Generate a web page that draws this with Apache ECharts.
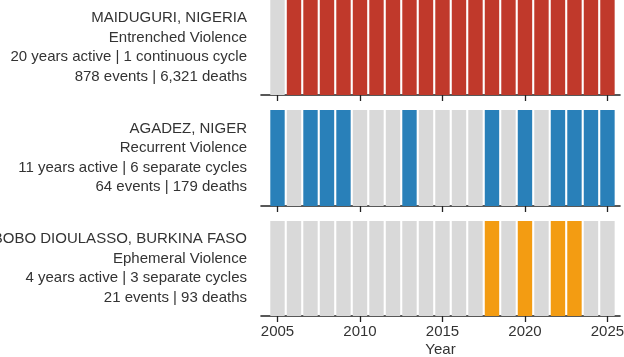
<!DOCTYPE html>
<html>
<head>
<meta charset="utf-8">
<script src="https://cdn.jsdelivr.net/npm/echarts@6/dist/echarts.min.js"></script>
<style>
html,body{margin:0;padding:0;background:#fff;}
#chart{width:624px;height:357px;}
</style>
</head>
<body>
<div id="chart"></div>
<script>
const years = [2005,2006,2007,2008,2009,2010,2011,2012,2013,2014,2015,2016,2017,2018,2019,2020,2021,2022,2023,2024,2025];
const tickYears = [2005,2010,2015,2020,2025];
const maiduguriActive = [0,1,1,1,1,1,1,1,1,1,1,1,1,1,1,1,1,1,1,1,1];
const agadezActive    = [1,0,1,1,1,0,0,0,1,0,0,0,0,1,0,1,0,1,1,1,1];
const boboActive      = [0,0,0,0,0,0,0,0,0,0,0,0,0,1,0,1,0,1,1,0,0];
const cityNames = ['MAIDUGURI, NIGERIA','AGADEZ, NIGER','BOBO DIOULASSO, BURKINA FASO'];
const violenceTypes = ['Entrenched Violence','Recurrent Violence','Ephemeral Violence'];
const activityLines = ['20 years active | 1 continuous cycle','11 years active | 6 separate cycles','4 years active | 3 separate cycles'];
const statsLines = ['878 events | 6,321 deaths','64 events | 179 deaths','21 events | 93 deaths'];

const panels = [maiduguriActive, agadezActive, boboActive];
const activeColors = ['#c0392b','#2980b9','#f39c12'];
const inactiveColor = '#d9d9d9';
const gridTops = [0, 110, 221];
const gridHeights = [95, 96, 95];
const FONT = '"Liberation Sans", Arial, Helvetica, sans-serif';

const chart = echarts.init(document.getElementById('chart'), null, {renderer:'canvas'});

const grids = [], xAxes = [], yAxes = [], series = [], graphics = [];
panels.forEach((flags, i) => {
  grids.push({left: 261, right: 4, top: gridTops[i], height: gridHeights[i], containLabel: false, outerBoundsMode: 'none'});
  const last = i === panels.length - 1;
  xAxes.push({
    type: 'value', gridIndex: i, min: 2004, max: 2025.76,
    splitLine: {show: false},
    axisLine: {show: true, onZero: false, lineStyle: {color: '#222', width: 1.6}},
    axisTick: {show: true, customValues: tickYears, length: 6, lineStyle: {color: '#222', width: 1.3}},
    axisLabel: {show: last, customValues: tickYears, margin: 8, fontSize: 15, color: '#333', fontFamily: FONT,
      formatter: v => String(v)},
    name: last ? 'Year' : '', nameLocation: 'middle', nameGap: 26,
    nameTextStyle: {fontSize: 15, color: '#333', fontFamily: FONT}
  });
  yAxes.push({type: 'value', gridIndex: i, min: 0, max: 1, show: false});
  series.push({
    type: 'bar', xAxisIndex: i, yAxisIndex: i, barWidth: 14.4, silent: true, animation: false,
    data: years.map((y, k) => ({value: [y, 1], itemStyle: {color: flags[k] ? activeColors[i] : inactiveColor}}))
  });
  const lines = [cityNames[i], violenceTypes[i], activityLines[i], statsLines[i]];
  const cy = gridTops[i] + gridHeights[i] / 2;
  lines.forEach((t, j) => {
    graphics.push({
      type: 'text', x: 247, y: cy + (j - 1.5) * 19.5,
      style: {text: t, align: 'right', verticalAlign: 'middle', fill: '#333', fontSize: 15, fontFamily: FONT}
    });
  });
});

chart.setOption({
  backgroundColor: '#fff',
  animation: false,
  grid: grids, xAxis: xAxes, yAxis: yAxes, series: series, graphic: graphics
});
</script>
</body>
</html>
